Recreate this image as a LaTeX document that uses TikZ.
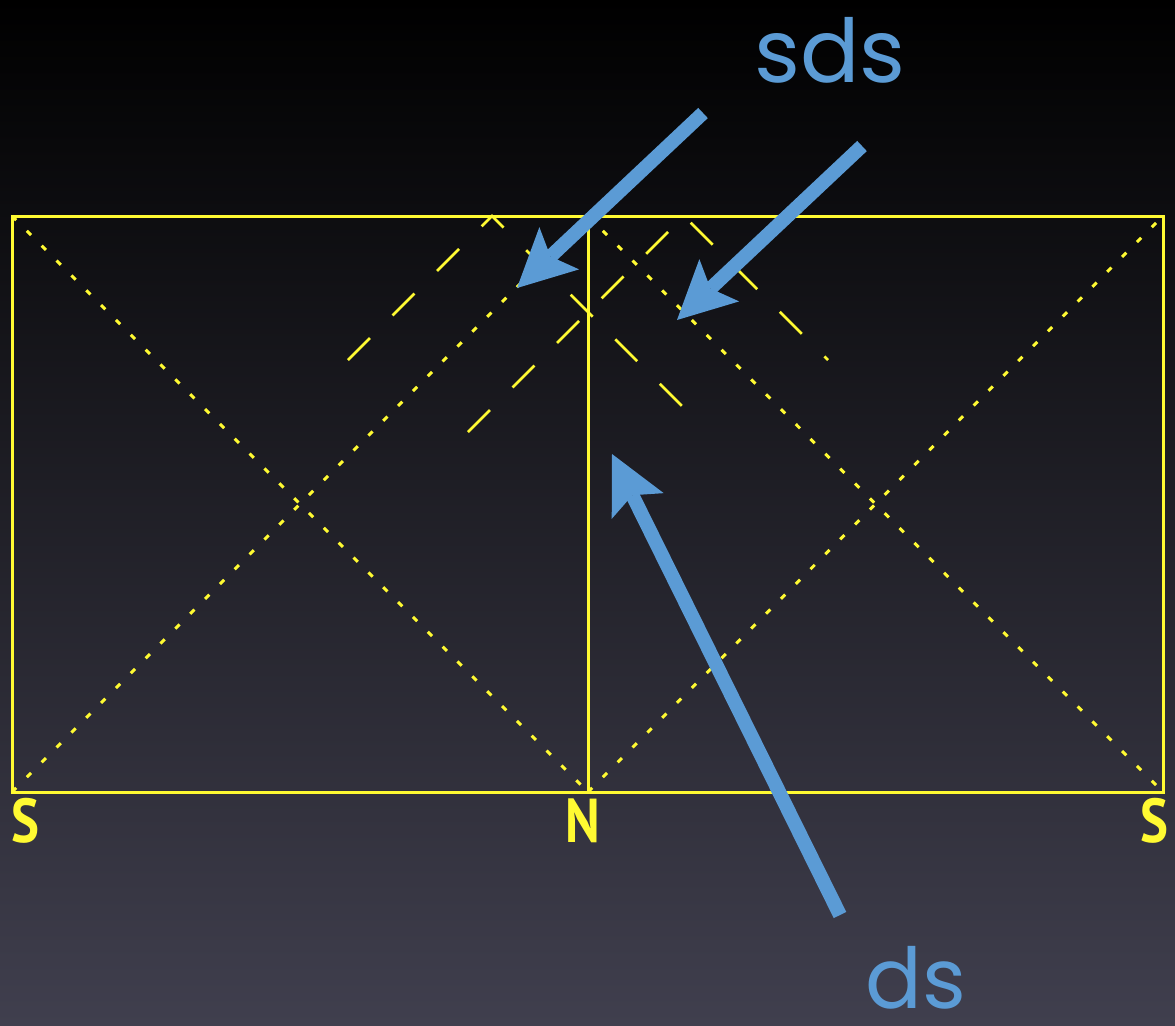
\documentclass[tikz,border=0pt]{standalone}
\usepackage{fontspec}
\newfontfamily\handfont{Poppins}
\newfontfamily\labfont[FakeStretch=0.85]{PT Sans}
\usetikzlibrary{arrows.meta}
\definecolor{ylw}{RGB}{255,250,50}
\definecolor{blu}{RGB}{91,155,213}
\definecolor{bgmid}{RGB}{22,22,29}
\definecolor{bgbot}{RGB}{64,63,78}
\begin{document}
\begin{tikzpicture}[x=0.5pt,y=-0.5pt,
  frame/.style={draw=ylw,line width=1.5pt},
  diag/.style={draw=ylw,line width=1.5pt,dash pattern=on 3pt off 7.5pt},
  ray/.style={draw=ylw,line width=1.4pt,dash pattern=on 15.5pt off 16pt},
  pointer/.style={draw=blu,line width=7pt,-{Stealth[length=29pt,width=29pt,inset=6pt,line width=0pt]}},
  pole/.style={text=ylw,font=\labfont\bfseries\fontsize{31}{33}\selectfont,inner sep=0pt,anchor=base},
  hand/.style={text=blu,font=\handfont\fontsize{44}{48}\selectfont,inner sep=0pt,anchor=base}]
\useasboundingbox (0,0) rectangle (1175,1025);
\shade[top color=black,middle color=bgmid,bottom color=bgbot] (0,0) rectangle (1175,1025);
% frame corners
\coordinate (tl) at (12,216);
\coordinate (tm) at (588,216);
\coordinate (tr) at (1163,216);
\coordinate (bl) at (12,792);
\coordinate (bm) at (588,792);
\coordinate (br) at (1163,792);
% diagonals
\draw[diag] (tl) -- (bm);
\draw[diag] (bl) -- (tm);
\draw[diag] (tm) -- (br);
\draw[diag] (bm) -- (tr);
% dashed rays
\coordinate (r1a) at (348,360);
\coordinate (r1b) at (492,216);
\coordinate (r1c) at (695,419);
\coordinate (r2a) at (468,432);
\coordinate (r2b) at (684,216);
\coordinate (r2c) at (828,360);
\draw[ray] (r1a) -- (r1b) -- (r1c);
\draw[ray] (r2a) -- (r2b) -- (r2c);
% frame
\draw[frame] (tl) rectangle (br);
\draw[frame] (tm) -- (bm);
% labels
\node[pole] (sL) at (25.5,842) {S};
\node[pole] (nM) at (583,842) {N};
\node[pole] (sR) at (1154.5,842) {S};
\node[hand] (sds) at (830,82) {sds};
\node[hand,font=\handfont\fontsize{42}{46}\selectfont] (ds) at (916,1008) {ds};
% arrows
\coordinate (a1s) at (703,113);
\coordinate (a1e) at (517,288);
\coordinate (a2s) at (862,146);
\coordinate (a2e) at (677,320);
\coordinate (a3s) at (840,915);
\coordinate (a3e) at (612,454);
\draw[pointer] (a1s) -- (a1e);
\draw[pointer] (a2s) -- (a2e);
\draw[pointer] (a3s) -- (a3e);
\end{tikzpicture}
\end{document}
